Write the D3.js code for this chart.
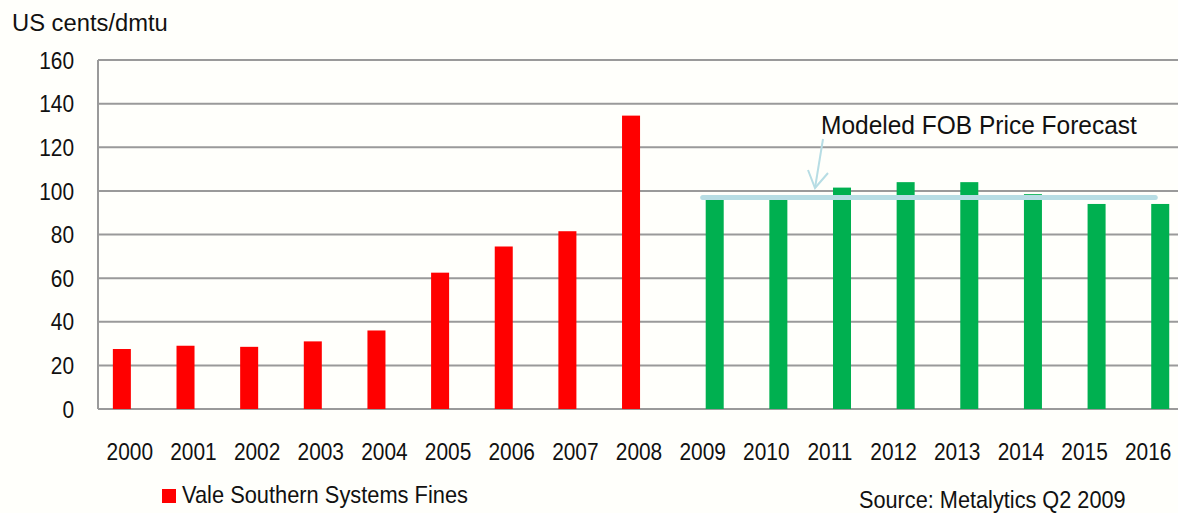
<!DOCTYPE html>
<html>
<head>
<meta charset="utf-8">
<script src="https://cdn.jsdelivr.net/npm/d3@7"></script>
<style>
  body { margin: 0; background: #fffffb; }
  svg { display: block; font-family: "Liberation Sans", Arial, sans-serif; }
</style>
</head>
<body>
<script>
// Data
const years = ["2000", "2001", "2002", "2003", "2004", "2005", "2006", "2007", "2008",
  "2009", "2010", "2011", "2012", "2013", "2014", "2015", "2016"];
const historicYears = ["2000", "2001", "2002", "2003", "2004", "2005", "2006", "2007", "2008"];
const historicValues = [27.5, 29, 28.5, 31, 36, 62.5, 74.5, 81.5, 134.5];
const forecastYears = ["2009", "2010", "2011", "2012", "2013", "2014", "2015", "2016"];
const forecastValues = [96, 96.5, 101.5, 104, 104, 98.5, 94, 94];
const fobForecast = 97;
const yTicks = [0, 20, 40, 60, 80, 100, 120, 140, 160];

const width = 1178;
const height = 513;
const plot = { left: 98, right: 1180, top: 60, bottom: 409 };

const svg = d3.select("body")
  .append("svg")
  .attr("width", width)
  .attr("height", height);

svg.append("rect").attr("width", width).attr("height", height).attr("fill", "#fffffb");

// narrow text: place at (x, y) and squeeze horizontally
function narrowText(g, x, y, sx) {
  return g.attr("transform", (d, i) => {
    const px = typeof x === "function" ? x(d, i) : x;
    const py = typeof y === "function" ? y(d, i) : y;
    return "translate(" + px + "," + py + ") scale(" + sx + ",1)";
  });
}

// scales
const xScale = d3.scaleBand().domain(years).range([plot.left, plot.right]);
const seriesScale = d3.scaleBand()
  .domain(["historic", "forecast"])
  .range([0, xScale.bandwidth()])
  .paddingInner(0.1)
  .paddingOuter(0.64)
  .align(0.58);
const yScale = d3.scaleLinear().domain([0, 160]).range([plot.bottom, plot.top]);

// gridlines
svg.append("g")
  .selectAll("line")
  .data(yTicks)
  .enter()
  .append("line")
  .attr("x1", plot.left)
  .attr("x2", width)
  .attr("y1", (d) => yScale(d))
  .attr("y2", (d) => yScale(d))
  .attr("stroke", "#9a9a9a")
  .attr("stroke-width", 2);

// y axis line
svg.append("line")
  .attr("x1", plot.left)
  .attr("x2", plot.left)
  .attr("y1", yScale(160))
  .attr("y2", yScale(0))
  .attr("stroke", "#9a9a9a")
  .attr("stroke-width", 2);

// y tick labels
svg.append("g")
  .selectAll("text")
  .data(yTicks)
  .enter()
  .append("text")
  .call(narrowText, 74, (d) => yScale(d), 0.87)
  .attr("dy", "0.36em")
  .attr("text-anchor", "end")
  .attr("font-size", 24)
  .attr("fill", "#111")
  .text((d) => d);

// bars
const historic = historicYears.map((y, i) => [y, historicValues[i]]);
const forecast = forecastYears.map((y, i) => [y, forecastValues[i]]);

svg.append("g")
  .selectAll("rect")
  .data(historic)
  .enter()
  .append("rect")
  .attr("x", (d) => xScale(d[0]) + seriesScale("historic"))
  .attr("y", (d) => yScale(d[1]))
  .attr("width", seriesScale.bandwidth())
  .attr("height", (d) => yScale(0) - yScale(d[1]))
  .attr("fill", "#ff0000");

svg.append("g")
  .selectAll("rect")
  .data(forecast)
  .enter()
  .append("rect")
  .attr("x", (d) => xScale(d[0]) + seriesScale("forecast"))
  .attr("y", (d) => yScale(d[1]))
  .attr("width", seriesScale.bandwidth())
  .attr("height", (d) => yScale(0) - yScale(d[1]))
  .attr("fill", "#00b050");

// x labels
svg.append("g")
  .selectAll("text")
  .data(years)
  .enter()
  .append("text")
  .call(narrowText, (d) => xScale(d) + xScale.bandwidth() / 2, 459.5, 0.87)
  .attr("text-anchor", "middle")
  .attr("font-size", 24)
  .attr("fill", "#111")
  .text((d) => d);

// forecast line
const lineStart = xScale("2009") + seriesScale("forecast") - 3;
const lineEnd = xScale("2016") + seriesScale("forecast") + seriesScale.bandwidth() - 14;
svg.append("line")
  .attr("x1", lineStart)
  .attr("x2", lineEnd)
  .attr("y1", yScale(fobForecast))
  .attr("y2", yScale(fobForecast))
  .attr("stroke", "#b7dde4")
  .attr("stroke-width", 5)
  .attr("stroke-linecap", "round");

// annotation
svg.append("text")
  .call(narrowText, 821, 133.5, 0.98)
  .attr("font-size", 25)
  .attr("fill", "#111")
  .text("Modeled FOB Price Forecast");

const arrow = svg.append("g")
  .attr("stroke", "#b7dde4")
  .attr("stroke-width", 2)
  .attr("fill", "none");
arrow.append("line").attr("x1", 823).attr("y1", 139).attr("x2", 815).attr("y2", 188);
arrow.append("polyline").attr("points", "808,170 815,188 828,173");

// title
svg.append("text")
  .call(narrowText, 12, 31, 0.99)
  .attr("font-size", 24)
  .attr("fill", "#111")
  .text("US cents/dmtu");

// legend
svg.append("rect")
  .attr("x", 162)
  .attr("y", 489)
  .attr("width", 14)
  .attr("height", 14)
  .attr("fill", "#ff0000");
svg.append("text")
  .call(narrowText, 182, 503, 0.91)
  .attr("font-size", 24)
  .attr("fill", "#111")
  .text("Vale Southern Systems Fines");

// source
svg.append("text")
  .call(narrowText, 859, 507.5, 0.905)
  .attr("font-size", 24)
  .attr("fill", "#111")
  .text("Source: Metalytics Q2 2009");
</script>
</body>
</html>
